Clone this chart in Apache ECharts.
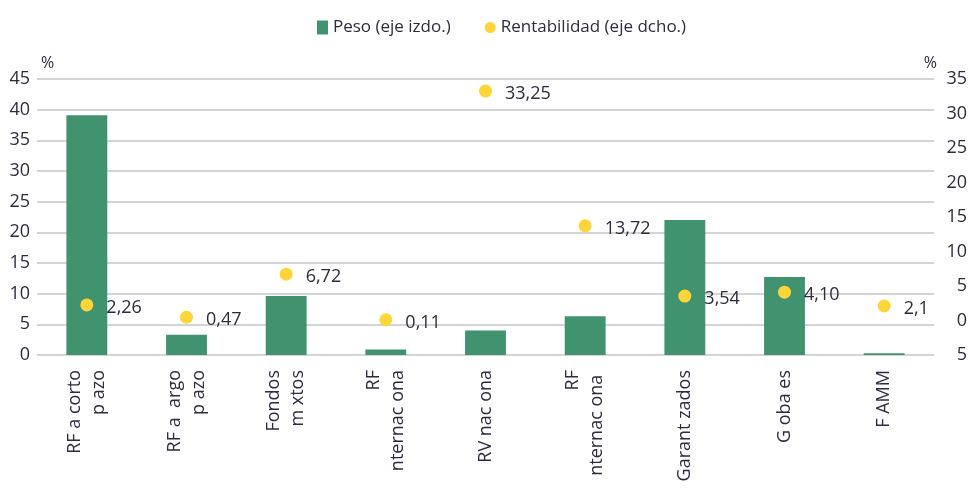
<!DOCTYPE html>
<html><head><meta charset="utf-8">
<script src="https://cdn.jsdelivr.net/npm/echarts@6/dist/echarts.min.js"></script>
<style>html,body{margin:0;padding:0;background:#fff}#c{width:970px;height:495px}</style>
</head><body><div id="c"></div>
<script>
var categories = ['RF a corto\np azo','RF a  argo\np azo','Fondos\nm xtos','RF\nnternac ona','RV nac ona','RF\nnternac ona ','Garant zados','G oba es','F AMM'];
var peso = [39.1, 3.3, 9.6, 0.9, 4.0, 6.3, 22.0, 12.7, 0.3];
var rentabilidad = [2.26, 0.47, 6.72, 0.11, 33.25, 13.72, 3.54, 4.10, 2.1];
var rentLabels = ['2,26','0,47','6,72','0,11','33,25','13,72','3,54','4,10','2,1'];
var leftTicks = [0,5,10,15,20,25,30,35,40,45];
var rightTickLabels = {'-5':'5','0':'0','5':'5','10':'10','15':'15','20':'20','25':'25','30':'30','35':'35'};

var font = 'Open Sans';
var txt = '#2c2c3e';
var chart = echarts.init(document.getElementById('c'));
chart.setOption({
  animation:false,
  textStyle:{fontFamily:font},
  legend:{top:14,left:312,itemGap:34,textStyle:{fontSize:17,color:txt,fontFamily:font},
    data:[{name:'Peso (eje izdo.)',icon:'rect',itemStyle:{color:'#40936e'}},{name:'Rentabilidad (eje dcho.)',icon:'circle',itemStyle:{color:'#fdd538'}}],
    itemWidth:11,itemHeight:14},
  grid:{left:37,right:35,top:79,bottom:140},
  xAxis:{type:'category',data:categories,
    axisLine:{show:false},axisTick:{show:false},
    axisLabel:{rotate:90,interval:0,margin:15,fontSize:18,lineHeight:24,color:txt,fontFamily:font}},
  yAxis:[
    {type:'value',min:0,max:45,interval:5,position:'left',
      name:'%',nameLocation:'end',nameGap:8,nameTextStyle:{align:'left',padding:[0,0,0,4],fontSize:16,color:txt},
      axisLine:{show:false},axisTick:{show:false},
      axisLabel:{margin:7,fontSize:18,color:txt,fontFamily:font},
      splitLine:{lineStyle:{color:'#c6c6c6',width:1.5}}},
    {type:'value',min:-5,max:35,interval:5,position:'right',
      name:'%',nameLocation:'end',nameGap:8,nameTextStyle:{align:'right',padding:[0,-3,0,0],fontSize:16,color:txt},
      axisLine:{show:false},axisTick:{show:false},splitLine:{show:false},
      axisLabel:{margin:33,align:'right',fontSize:18,color:txt,fontFamily:font,
        formatter:function(v){return rightTickLabels[String(v)]!==undefined?rightTickLabels[String(v)]:String(v);}}}
  ],
  series:[
    {name:'Peso (eje izdo.)',type:'bar',yAxisIndex:0,data:peso,barWidth:'41%',
      itemStyle:{color:'#40936e'}},
    {name:'Rentabilidad (eje dcho.)',type:'scatter',yAxisIndex:1,data:rentabilidad,symbolSize:13,
      itemStyle:{color:'#fdd538',opacity:1},
      label:{show:true,position:'right',distance:13,offset:[0,3],fontSize:18,color:txt,fontFamily:font,
        formatter:function(p){return rentLabels[p.dataIndex];}}}
  ]
});
</script></body></html>
